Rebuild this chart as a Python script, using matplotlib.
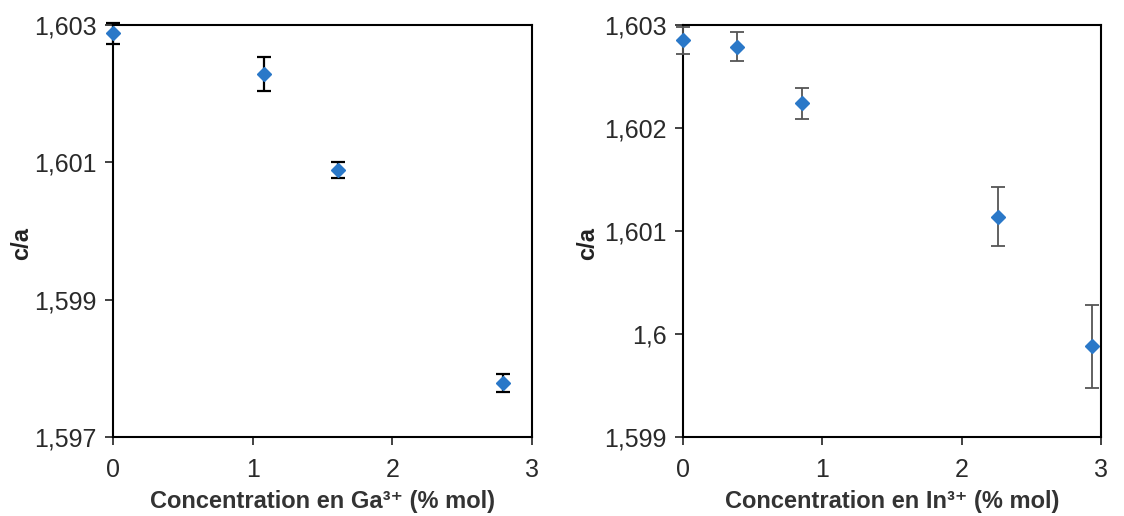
import matplotlib
matplotlib.use('Agg')
import matplotlib.pyplot as plt
from matplotlib.ticker import FuncFormatter

plt.rcParams['font.family'] = ['Liberation Sans', 'DejaVu Sans']

# Ga3+ doping
ga_conc = [0.0, 1.08, 1.61, 2.79]
ga_ca = [1.60288, 1.60229, 1.60089, 1.59779]
ga_err = [0.00015, 0.00025, 0.00012, 0.00013]

# In3+ doping
in_conc = [0.0, 0.39, 0.855, 2.26, 2.935]
in_ca = [1.60285, 1.60279, 1.60224, 1.60114, 1.59988]
in_err = [0.00013, 0.00014, 0.00015, 0.00029, 0.00040]

blue = '#2a78c8'


def comma_fmt(v, pos):
    s = f'{v:.3f}'.rstrip('0').rstrip('.')
    return s.replace('.', ',')


fig = plt.figure(figsize=(11.24, 5.16), dpi=100)
ax1 = fig.add_axes([0.1005, 0.1531, 0.3728, 0.7984])
ax2 = fig.add_axes([0.6077, 0.1531, 0.3719, 0.7984])

ax1.errorbar(ga_conc, ga_ca, yerr=ga_err, fmt='D', color=blue, markersize=7.5,
             ecolor='black', elinewidth=1.6, capsize=5, capthick=1.6, clip_on=False, zorder=3)
ax2.errorbar(in_conc, in_ca, yerr=in_err, fmt='D', color=blue, markersize=7.5,
             ecolor='#555555', elinewidth=1.3, capsize=5, capthick=1.3, clip_on=False, zorder=3)

ax1.set_ylim(1.597, 1.603)
ax1.set_yticks([1.597, 1.599, 1.601, 1.603])
ax2.set_ylim(1.599, 1.603)
ax2.set_yticks([1.599, 1.600, 1.601, 1.602, 1.603])

for ax, ion in [(ax1, 'Ga'), (ax2, 'In')]:
    ax.set_xlim(0, 3)
    ax.set_xticks([0, 1, 2, 3])
    ax.yaxis.set_major_formatter(FuncFormatter(comma_fmt))
    ax.tick_params(labelsize=18, length=6, width=1.3, direction='out', colors='#333333', labelcolor='#2a2a2a')
    ax.tick_params(axis='x', pad=9)
    ax.tick_params(axis='y', pad=6)
    for sp in ax.spines.values():
        sp.set_linewidth(1.5)
        sp.set_color('black')
    ax.set_xlabel(f'Concentration en {ion}\u00b3\u207a (% mol)', fontsize=17, fontweight='bold',
                  color='#333333', labelpad=6)
    ax.set_ylabel('c/a', fontsize=17, fontweight='bold', color='#222222')

ax1.yaxis.set_label_coords(-0.19, 0.47)
ax2.yaxis.set_label_coords(-0.20, 0.47)

fig.savefig('out.png', dpi=100)
